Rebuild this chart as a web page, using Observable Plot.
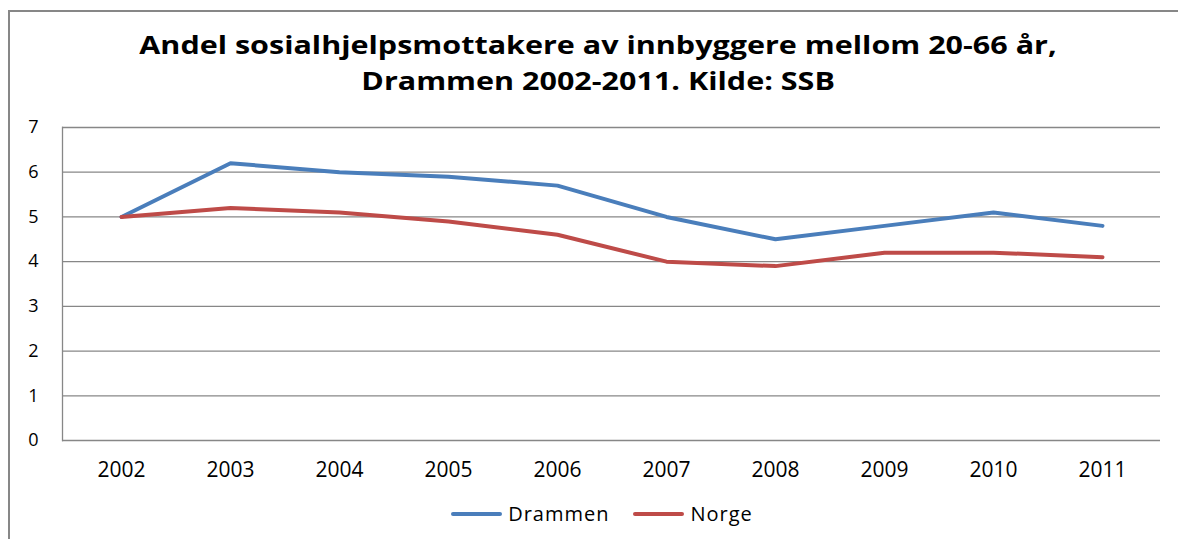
<!DOCTYPE html>
<html>
<head>
<meta charset="utf-8">
<script src="https://cdn.jsdelivr.net/npm/d3@7"></script>
<script src="https://cdn.jsdelivr.net/npm/@observablehq/plot@0.6"></script>
<style>
  html, body { margin: 0; padding: 0; background: #fff; }
  body { width: 1178px; height: 539px; position: relative; overflow: hidden; font-family: "Open Sans", sans-serif; }
  #frame { position: absolute; left: 8px; top: 10px; width: 1180px; height: 540px; border-left: 2px solid #878787; border-top: 2px solid #878787; z-index: 5; pointer-events: none; }
  #title { position: absolute; left: 0; top: 26px; width: 1196px; text-align: center; font-weight: bold; font-size: 25px; line-height: 36px; color: #000; }
  #title span { display: inline-block; transform: scaleX(1.22); transform-origin: center; white-space: nowrap; }
  #chart { position: absolute; left: 0; top: 100px; }
  #legend { position: absolute; left: 0; top: 500px; width: 1204px; display: flex; justify-content: center; align-items: center; font-size: 20px; letter-spacing: 1px; color: #000; }
  .item { display: flex; align-items: center; margin: 0 12px; }
  .swatch { width: 51px; height: 4px; border-radius: 2px; margin-right: 6px; }
</style>
</head>
<body>
<div id="frame"></div>
<div id="title"><span>Andel sosialhjelpsmottakere av innbyggere mellom 20-66 år,</span><br><span>Drammen 2002-2011. Kilde: SSB</span></div>
<div id="chart"></div>
<div id="legend"></div>
<script>
const years = ["2002","2003","2004","2005","2006","2007","2008","2009","2010","2011"];
const drammen = [5.0, 6.2, 6.0, 5.9, 5.7, 5.0, 4.5, 4.8, 5.1, 4.8];
const norge   = [5.0, 5.2, 5.1, 4.9, 4.6, 4.0, 3.9, 4.2, 4.2, 4.1];
const seriesNames = ["Drammen", "Norge"];
const seriesColors = ["#4a7ebb", "#be4b48"];
const yTicks = [0, 1, 2, 3, 4, 5, 6, 7];

const data = [];
years.forEach((y, i) => {
  data.push({year: y, value: drammen[i], series: seriesNames[0]});
  data.push({year: y, value: norge[i], series: seriesNames[1]});
});

const plot = Plot.plot({
  width: 1178,
  height: 395,
  marginLeft: 62,
  marginRight: 18,
  marginTop: 27,
  marginBottom: 55,
  style: {fontFamily: "Open Sans, sans-serif", background: "transparent", color: "#000", overflow: "visible"},
  x: {type: "point", domain: years, padding: 0.5, label: null},
  y: {domain: [0, 7], ticks: yTicks, label: null},
  color: {domain: seriesNames, range: seriesColors},
  marks: [
    Plot.ruleY(yTicks, {stroke: "#878787", strokeWidth: 1.3, strokeOpacity: 1}),
    Plot.frame({anchor: "left", stroke: "#878787", strokeWidth: 1.3}),
    Plot.axisY({ticks: yTicks, tickSize: 0, tickPadding: 24, fontSize: 18, tickFormat: d => String(d), label: null}),
    Plot.axisX({tickSize: 0, tickPadding: 22, fontSize: 21, label: null}),
    Plot.line(data, {x: "year", y: "value", z: "series", stroke: "series", strokeWidth: 4, strokeLinejoin: "round", strokeLinecap: "round"})
  ]
});
document.getElementById("chart").appendChild(plot);

const legend = document.getElementById("legend");
seriesNames.forEach((name, i) => {
  const item = document.createElement("div");
  item.className = "item";
  const sw = document.createElement("div");
  sw.className = "swatch";
  sw.style.background = seriesColors[i];
  const label = document.createElement("span");
  label.textContent = name;
  item.appendChild(sw);
  item.appendChild(label);
  legend.appendChild(item);
});
</script>
</body>
</html>
